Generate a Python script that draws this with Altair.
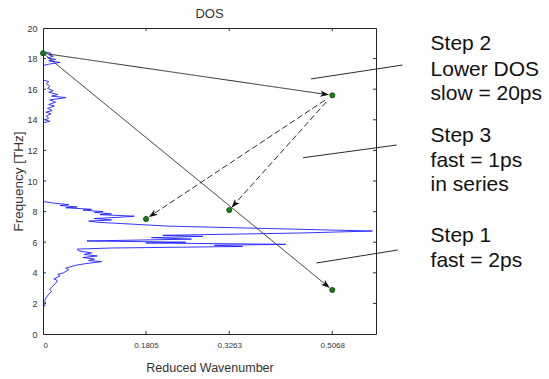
import altair as alt
import pandas as pd
import numpy as np

# ---------------- data ----------------
# DOS curve, segment A (low band)
dos_a_freq = [1.8, 2.0, 2.2, 2.4, 2.6, 2.77, 2.9, 3.1, 3.3, 3.5, 3.6, 3.8, 3.9, 4.0,
              4.2, 4.3, 4.5, 4.6, 4.73, 4.8, 4.9, 5.0, 5.1, 5.2, 5.3, 5.44, 5.55,
              5.62, 5.72, 5.80, 5.86, 5.95, 6.00, 6.08, 6.20, 6.30, 6.38, 6.45,
              6.60, 6.73, 7.05, 7.30, 7.38, 7.45, 7.55, 7.62, 7.70, 7.80, 7.85,
              7.95, 8.00, 8.10, 8.15, 8.25, 8.30, 8.40, 8.45, 8.55, 8.65]
dos_a_val = [0.002, 0.004, 0.003, 0.006, 0.010, 0.015, 0.012, 0.016, 0.022, 0.025,
             0.019, 0.030, 0.026, 0.036, 0.045, 0.040, 0.058, 0.075, 0.103, 0.080,
             0.090, 0.070, 0.095, 0.072, 0.085, 0.062, 0.060, 0.120, 0.350, 0.300,
             0.425, 0.180, 0.250, 0.077, 0.260, 0.190, 0.280, 0.210, 0.450, 0.577,
             0.220, 0.097, 0.080, 0.120, 0.090, 0.130, 0.160, 0.100, 0.120, 0.090,
             0.105, 0.070, 0.085, 0.040, 0.060, 0.030, 0.045, 0.020, 0.001]
# segment B (middle-high band)
dos_b_freq = [13.8, 13.9, 14.0, 14.1, 14.25, 14.4, 14.5, 14.6, 14.75, 14.9, 15.0,
              15.15, 15.3, 15.45, 15.55, 15.65, 15.8, 15.9, 16.05, 16.2, 16.35,
              16.5, 16.6]
dos_b_val = [0.0, 0.012, 0.004, 0.010, 0.006, 0.014, 0.005, 0.016, 0.008, 0.020,
             0.010, 0.022, 0.012, 0.040, 0.015, 0.026, 0.010, 0.018, 0.008, 0.012,
             0.006, 0.010, 0.0]
# segment C (top band)
dos_c_freq = [17.55, 17.65, 17.75, 17.85, 17.95, 18.05, 18.15, 18.25, 18.35, 18.45]
dos_c_val = [0.0, 0.012, 0.030, 0.010, 0.022, 0.008, 0.018, 0.010, 0.014, 0.0]

# phonon states (points)
pt_x = [0.0, 0.5068, 0.1805, 0.3263, 0.5068]
pt_y = [18.35, 15.60, 7.52, 8.10, 2.88]

# arrows: from index, to index, style
arr_from = [0, 0, 1, 1]
arr_to = [1, 4, 2, 3]
arr_style = ["solid", "solid", "dashed", "dashed"]
arr_start_gap = [0, 0, 9, 9]   # px gap at the start

# annotation pointer lines (x1, y1, x2, y2) in data units
ann_x1 = [0.4696, 0.4556, 0.4790]
ann_y1 = [16.67, 11.52, 4.64]
ann_x2 = [0.6298, 0.6193, 0.6216]
ann_y2 = [17.58, 12.35, 5.49]

# annotation text lines
txt_lines = ["Step 2", "Lower DOS", "slow = 20ps",
             "Step 3", "fast = 1ps", "in series",
             "Step 1", "fast = 2ps"]
txt_y = [18.56, 16.86, 15.29, 12.55, 10.92, 9.35, 6.01, 4.38]
txt_x = 0.679

x_ticks = [0, 0.1805, 0.3263, 0.5068]
y_ticks = [0, 2, 4, 6, 8, 10, 12, 14, 16, 18, 20]

# ---------------- layout ----------------
XMAX = 0.5834
W, H = 333, 306
SX = W / XMAX
SY = H / 20.0

xs = alt.Scale(domain=[0, XMAX], nice=False, zero=False)
ys = alt.Scale(domain=[0, 20], nice=False, zero=False)
FONT = "Liberation Sans"

x_axis = alt.Axis(
    values=x_ticks, ticks=False, domain=False, grid=False,
    labelExpr="datum.value == 0 ? '0' : format(datum.value, '.4f')",
    labelFont=FONT, labelFontSize=8, labelColor="#333", labelPadding=7,
    title="Reduced Wavenumber", titleFont=FONT, titleFontSize=12.5,
    titleFontWeight="normal", titleColor="#333", titlePadding=12)
y_axis = alt.Axis(
    values=y_ticks, ticks=False, domain=False, grid=False, format="d",
    labelFont=FONT, labelFontSize=9, labelColor="#333", labelPadding=6,
    title="Frequency [THz]", titleFont=FONT, titleFontSize=13.5,
    titleFontWeight="normal", titleColor="#333", titlePadding=1)


def X(field):
    return alt.X(field, scale=xs, axis=x_axis)


def Y(field):
    return alt.Y(field, scale=ys, axis=y_axis)


dos_rows = []
for seg, (fr, vv) in enumerate([(dos_a_freq, dos_a_val), (dos_b_freq, dos_b_val),
                                (dos_c_freq, dos_c_val)]):
    for i, (f, v) in enumerate(zip(fr, vv)):
        dos_rows.append({"seg": seg, "i": i, "x": v, "y": f})
dos_df = pd.DataFrame(dos_rows)

pts_df = pd.DataFrame({"x": pt_x, "y": pt_y})

# arrows geometry (computed from the point data)
line_rows, head_rows = [], []
for k, (a, b, st, gap) in enumerate(zip(arr_from, arr_to, arr_style, arr_start_gap)):
    x0, y0, x1, y1 = pt_x[a], pt_y[a], pt_x[b], pt_y[b]
    dxs, dys = (x1 - x0) * SX, -(y1 - y0) * SY
    L = np.hypot(dxs, dys)
    ux, uy = dxs / L, dys / L
    hc_x = x1 - 7.7 * ux / SX
    hc_y = y1 + 7.7 * uy / SY
    sx0 = x0 + gap * ux / SX
    sy0 = y0 - gap * uy / SY
    line_rows.append({"k": k, "o": 0, "x": sx0, "y": sy0, "style": st})
    line_rows.append({"k": k, "o": 1, "x": hc_x, "y": hc_y, "style": st})
    ang = float(np.degrees(np.arctan2(ux, -uy))) % 360
    head_rows.append({"x": hc_x, "y": hc_y, "ang": ang})
arr_df = pd.DataFrame(line_rows)
head_df = pd.DataFrame(head_rows)

ann_rows = []
for k in range(len(ann_x1)):
    ann_rows.append({"k": k, "o": 0, "x": ann_x1[k], "y": ann_y1[k]})
    ann_rows.append({"k": k, "o": 1, "x": ann_x2[k], "y": ann_y2[k]})
ann_df = pd.DataFrame(ann_rows)

txt_df = pd.DataFrame({"x": [txt_x] * len(txt_lines), "y": txt_y, "t": txt_lines})

# ---------------- layers ----------------
dos = alt.Chart(dos_df).mark_line(color="#1e1eff", strokeWidth=0.9).encode(
    x=X("x:Q"), y=Y("y:Q"), detail="seg:N", order="i:Q")

arrows = alt.Chart(arr_df).mark_line(color="#2a2a2a", strokeWidth=1).encode(
    x=X("x:Q"), y=Y("y:Q"), detail="k:N", order="o:Q",
    strokeDash=alt.StrokeDash("style:N", scale=alt.Scale(
        domain=["solid", "dashed"], range=[[1, 0], [6, 3]]), legend=None),
)

heads = alt.Chart(head_df).mark_point(
    shape="M0,-1 L0.7,1 L0,0.45 L-0.7,1 Z", filled=True, color="#111",
    size=81, opacity=1).encode(
    x=X("x:Q"), y=Y("y:Q"), angle=alt.Angle("ang:Q", scale=None))

points = alt.Chart(pts_df).mark_point(
    shape="circle", filled=True, fill="#0a8a0a", stroke="#123012",
    strokeWidth=0.8, size=26, opacity=1).encode(x=X("x:Q"), y=Y("y:Q"))

ann = alt.Chart(ann_df).mark_line(color="#2a2a2a", strokeWidth=1, clip=False).encode(
    x=X("x:Q"), y=Y("y:Q"), detail="k:N", order="o:Q")

texts = alt.Chart(txt_df).mark_text(
    align="left", baseline="alphabetic", font=FONT, fontSize=21,
    color="#111").encode(x=X("x:Q"), y=Y("y:Q"), text="t:N")

# inward ticks
yt_df = pd.DataFrame({"y": y_ticks[1:-1]})
xt_df = pd.DataFrame({"x": x_ticks[1:]})
ytl = alt.Chart(yt_df).mark_rule(color="#333", strokeWidth=1).encode(
    y=Y("y:Q"), x=alt.value(0), x2=alt.value(3))
ytr = alt.Chart(yt_df).mark_rule(color="#333", strokeWidth=1).encode(
    y=Y("y:Q"), x=alt.value(W - 3), x2=alt.value(W))
xtb = alt.Chart(xt_df).mark_rule(color="#333", strokeWidth=1).encode(
    x=X("x:Q"), y=alt.value(H - 3), y2=alt.value(H))
xtt = alt.Chart(xt_df).mark_rule(color="#333", strokeWidth=1).encode(
    x=X("x:Q"), y=alt.value(0), y2=alt.value(3))

chart = alt.layer(
    dos, ytl, ytr, xtb, xtt, arrows, heads, points, ann, texts
).properties(
    width=W, height=H,
    background="white",
    title=alt.TitleParams("DOS", font=FONT, fontSize=13, fontWeight="normal",
                          color="#333", offset=3, anchor="middle"),
    padding={"left": 43, "top": 28, "right": 173, "bottom": 45},
    autosize=alt.AutoSizeParams(type="none"),
).configure_view(
    stroke="#222", strokeWidth=1
)

chart.save("out.html", embed_options={"renderer": "svg", "actions": False})
